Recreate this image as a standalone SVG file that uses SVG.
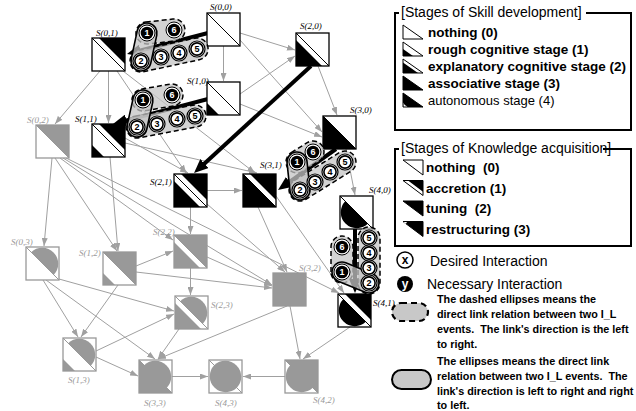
<svg xmlns="http://www.w3.org/2000/svg" xmlns:xlink="http://www.w3.org/1999/xlink" width="636" height="411" viewBox="0 0 636 411">
<style>
.bg{fill:#fff}
.nb use{fill:#000}
.ng use{fill:#999}
.nb .fr{fill:none;stroke:#000;stroke-width:1.3}
.ng .fr{fill:none;stroke:#999;stroke-width:1.3}
.nb .dg{stroke:#000;stroke-width:1}
.ng .dg{stroke:#999;stroke-width:1}
.lb{font-family:"Liberation Serif","Times New Roman",serif;font-style:italic;font-size:9px;fill:#000}
.lg{font-family:"Liberation Serif","Times New Roman",serif;font-style:italic;font-size:9px;fill:#999}
.ge{fill:none;stroke:#a0a0a0;stroke-width:1;marker-end:url(#ag)}
.te{fill:none;stroke:#000;stroke-width:4;marker-end:url(#ab)}
.cd{fill:#c4c4c4;fill-opacity:.75;stroke:#000;stroke-width:1.5;stroke-dasharray:5 3}
.cs{fill:#c4c4c4;fill-opacity:.75;stroke:#000;stroke-width:1.6}
.nw{font-family:"Liberation Sans",Arial,sans-serif;font-weight:bold;font-size:9px;fill:#fff;text-anchor:middle}
.nk{font-family:"Liberation Sans",Arial,sans-serif;font-weight:bold;font-size:9px;fill:#000;text-anchor:middle}
.lt{font-family:"Liberation Sans",Arial,sans-serif;font-size:14px;fill:#000}
.li{font-family:"Liberation Sans",Arial,sans-serif;font-size:13.5px;font-weight:bold;fill:#000;white-space:pre}
.lr{font-family:"Liberation Sans",Arial,sans-serif;font-size:13px;fill:#000}
.lp{font-family:"Liberation Sans",Arial,sans-serif;font-size:10.8px;font-weight:bold;fill:#000;white-space:pre}
.bx{fill:none;stroke:#000;stroke-width:2}
.ow{fill:#fff;stroke:#000;stroke-width:1}
</style>
<defs>
<marker id="ag" viewBox="0 0 8 6" refX="8" refY="3" markerWidth="8" markerHeight="6" markerUnits="userSpaceOnUse" orient="auto"><path d="M0,0 L8,3 L0,6 Z" fill="#a0a0a0"/></marker>
<marker id="ab" viewBox="0 0 14 12" refX="2" refY="6" markerWidth="14" markerHeight="12" markerUnits="userSpaceOnUse" orient="auto"><path d="M0,0 L14,6 L0,12 Z" fill="#000"/></marker>
<path id="sk1" d="M0,21 L0,33 L12,33 Z"/>
<path id="sk2" d="M0,7 L0,33 L26,33 Z"/>
<path id="sk3" d="M0,0 L0,33 L33,33 Z"/>
<path id="sk4" d="M5.19,5.19 A16,16 0 0 0 27.81,27.81 Z"/>
<path id="kn1" d="M7,0 L33,0 L33,26 Z"/>
<path id="kn2" d="M0,0 L33,0 L33,33 Z"/>
<path id="kn3" d="M5.19,5.19 A16,16 0 0 1 27.81,27.81 Z"/>
<g id="cb"><circle r="8" fill="#fff" stroke="#000" stroke-width="1"/><circle r="6.3" fill="#000"/></g>
<g id="cw"><circle r="8" fill="#fff" stroke="#000" stroke-width="1.2"/><circle r="6.1" fill="#fff" stroke="#000" stroke-width="1.6"/></g>
</defs>
<rect width="636" height="411" fill="#fff"/>

<g id="connectors">
<path class="ge" d="M223.5,46 L223.5,81"/>
<path class="ge" d="M240,33 L295,50"/>
<path class="ge" d="M240,40 L322,132"/>
<path class="ge" d="M240,94 L295,56"/>
<path class="ge" d="M240,104 L322,137"/>
<path class="ge" d="M318,66 L337,115"/>
<path class="ge" d="M346,149 L355,195"/>
<path class="ge" d="M108.5,71 L108.5,123"/>
<path class="ge" d="M100,71 L55,124"/>
<path class="ge" d="M117,71 L186,173"/>
<path class="ge" d="M123,71 L255,173"/>
<path class="ge" d="M125,138 L188,173"/>
<path class="ge" d="M125,143 L257,173"/>
<path class="ge" d="M110,157 L118,251"/>
<path class="ge" d="M207,190.5 L242,190.5"/>
<path class="ge" d="M190.5,207 L190.5,234"/>
<path class="ge" d="M207,204 L285,272"/>
<path class="ge" d="M258,207 L287,272"/>
<path class="ge" d="M276,196 L344,293"/>
<path class="ge" d="M350,327 L303,359"/>
<path class="ge" d="M52,158 L44,246"/>
<path class="ge" d="M55,158 L117,251"/>
<path class="ge" d="M60,158 L173,240"/>
<path class="ge" d="M63,158 L272,285"/>
<path class="ge" d="M66,158 L339,293"/>
<path class="ge" d="M118,285 L81,337"/>
<path class="ge" d="M136,266 L173,251"/>
<path class="ge" d="M136,272 L272,288"/>
<path class="ge" d="M190.5,268 L190.5,295"/>
<path class="ge" d="M207,257 L272,286"/>
<path class="ge" d="M290,306 L300,359"/>
<path class="ge" d="M287,306 L158,359"/>
<path class="ge" d="M43,280 L78,337"/>
<path class="ge" d="M59,279 L174,311"/>
<path class="ge" d="M46,280 L155,359"/>
<path class="ge" d="M96,351 L174,314"/>
<path class="ge" d="M96,357 L138,376"/>
<path class="ge" d="M179,329 L158,359"/>
<path class="ge" d="M172,376.5 L208,376.5"/>
<path class="ge" d="M285,376.5 L243,376.5"/>
<path class="te" d="M208,33 L138.6,51"/>
<path class="te" d="M208,99 L124.6,120.9"/>
<path class="te" d="M311,66 L202.9,164.9"/>
<path class="te" d="M336,149 L287.8,183.1"/>
<path class="te" d="M355,229 L355,281"/>
</g>

<g id="S00" class="nb"><g transform="translate(207,13)"><rect class="bg" width="33" height="33"/><line class="dg" x2="33" y2="33"/><rect class="fr" width="33" height="33"/></g><text class="lb" x="210" y="10">S(0,0)</text></g>
<g id="S01" class="nb"><g transform="translate(92,38)"><rect class="bg" width="33" height="33"/><use href="#kn1"/><line class="dg" x2="33" y2="33"/><rect class="fr" width="33" height="33"/></g><text class="lb" x="96" y="36">S(0,1)</text></g>
<g id="S10" class="nb"><g transform="translate(207,82)"><rect class="bg" width="33" height="33"/><use href="#sk1"/><line class="dg" x2="33" y2="33"/><rect class="fr" width="33" height="33"/></g><text class="lb" x="187" y="84">S(1,0)</text></g>
<g id="S11" class="nb"><g transform="translate(92,124)"><rect class="bg" width="33" height="33"/><use href="#sk1"/><use href="#kn1"/><line class="dg" x2="33" y2="33"/><rect class="fr" width="33" height="33"/></g><text class="lb" x="75" y="122">S(1,1)</text></g>
<g id="S20" class="nb"><g transform="translate(296,33)"><rect class="bg" width="33" height="33"/><use href="#sk2"/><line class="dg" x2="33" y2="33"/><rect class="fr" width="33" height="33"/></g><text class="lb" x="300" y="29">S(2,0)</text></g>
<g id="S21" class="nb"><g transform="translate(174,174)"><rect class="bg" width="33" height="33"/><use href="#sk2"/><use href="#kn1"/><line class="dg" x2="33" y2="33"/><rect class="fr" width="33" height="33"/></g><text class="lb" x="150" y="185">S(2,1)</text></g>
<g id="S30" class="nb"><g transform="translate(323,116)"><rect class="bg" width="33" height="33"/><use href="#sk3"/><line class="dg" x2="33" y2="33"/><rect class="fr" width="33" height="33"/></g><text class="lb" x="350" y="113">S(3,0)</text></g>
<g id="S31" class="nb"><g transform="translate(243,174)"><rect class="bg" width="33" height="33"/><use href="#sk3"/><use href="#kn1"/><line class="dg" x2="33" y2="33"/><rect class="fr" width="33" height="33"/></g><text class="lb" x="260" y="168">S(3,1)</text></g>
<g id="S40" class="nb"><g transform="translate(340,196)"><rect class="bg" width="33" height="33"/><use href="#sk4"/><line class="dg" x2="33" y2="33"/><rect class="fr" width="33" height="33"/></g><text class="lb" x="369" y="193">S(4,0)</text></g>
<g id="S41" class="nb"><g transform="translate(338,294)"><rect class="bg" width="33" height="33"/><use href="#sk4"/><use href="#kn1"/><line class="dg" x2="33" y2="33"/><rect class="fr" width="33" height="33"/></g><text class="lb" x="373" y="306">S(4,1)</text></g>
<g id="S02" class="ng"><g transform="translate(36,125)"><rect class="bg" width="33" height="33"/><use href="#kn2"/><line class="dg" x2="33" y2="33"/><rect class="fr" width="33" height="33"/></g><text class="lg" x="27" y="123">S(0,2)</text></g>
<g id="S12" class="ng"><g transform="translate(103,252)"><rect class="bg" width="33" height="33"/><use href="#sk1"/><use href="#kn2"/><line class="dg" x2="33" y2="33"/><rect class="fr" width="33" height="33"/></g><text class="lg" x="79" y="256">S(1,2)</text></g>
<g id="S22" class="ng"><g transform="translate(174,235)"><rect class="bg" width="33" height="33"/><use href="#sk2"/><use href="#kn2"/><line class="dg" x2="33" y2="33"/><rect class="fr" width="33" height="33"/></g><text class="lg" x="153" y="235">S(2,2)</text></g>
<g id="S32" class="ng"><g transform="translate(273,273)"><rect class="bg" width="33" height="33"/><use href="#sk3"/><use href="#kn2"/><line class="dg" x2="33" y2="33"/><rect class="fr" width="33" height="33"/></g><text class="lg" x="299" y="271">S(3,2)</text></g>
<g id="S42" class="ng"><g transform="translate(285,360)"><rect class="bg" width="33" height="33"/><use href="#sk4"/><use href="#kn2"/><line class="dg" x2="33" y2="33"/><rect class="fr" width="33" height="33"/></g><text class="lg" x="313" y="403">S(4,2)</text></g>
<g id="S03" class="ng"><g transform="translate(26,247)"><rect class="bg" width="33" height="33"/><use href="#kn3"/><line class="dg" x2="33" y2="33"/><rect class="fr" width="33" height="33"/></g><text class="lg" x="11" y="245">S(0,3)</text></g>
<g id="S13" class="ng"><g transform="translate(63,338)"><rect class="bg" width="33" height="33"/><use href="#sk1"/><use href="#kn3"/><line class="dg" x2="33" y2="33"/><rect class="fr" width="33" height="33"/></g><text class="lg" x="68" y="383">S(1,3)</text></g>
<g id="S23" class="ng"><g transform="translate(175,296)"><rect class="bg" width="33" height="33"/><use href="#sk2"/><use href="#kn3"/><line class="dg" x2="33" y2="33"/><rect class="fr" width="33" height="33"/></g><text class="lg" x="211" y="308">S(2,3)</text></g>
<g id="S33" class="ng"><g transform="translate(139,360)"><rect class="bg" width="33" height="33"/><use href="#sk3"/><use href="#kn3"/><line class="dg" x2="33" y2="33"/><rect class="fr" width="33" height="33"/></g><text class="lg" x="144" y="406">S(3,3)</text></g>
<g id="S43" class="ng"><g transform="translate(209,360)"><rect class="bg" width="33" height="33"/><use href="#sk4"/><use href="#kn3"/><line class="dg" x2="33" y2="33"/><rect class="fr" width="33" height="33"/></g><text class="lg" x="215" y="406">S(4,3)</text></g>

<g id="events-A">
<rect class="cd" transform="translate(160.5,31.5) rotate(-6.34)" x="-24.6" y="-11" width="49.2" height="22" rx="11"/>
<rect class="cd" transform="translate(169,55) rotate(-12.09)" x="-39.6" y="-11" width="79.3" height="22" rx="11"/>
<rect class="cs" transform="translate(144,47) rotate(102.1)" x="-24.3" y="-10" width="48.6" height="20" rx="10"/>
<use href="#cb" x="147" y="33"/><text class="nw" x="147" y="36.2">1</text>
<use href="#cb" x="174" y="30"/><text class="nw" x="174" y="33.2">6</text>
<use href="#cw" x="141" y="61"/><text class="nk" x="141" y="64.2">2</text>
<use href="#cw" x="161" y="57"/><text class="nk" x="161" y="60.2">3</text>
<use href="#cw" x="179" y="53"/><text class="nk" x="179" y="56.2">4</text>
<use href="#cw" x="197" y="49"/><text class="nk" x="197" y="52.2">5</text>
</g>
<g id="events-B">
<rect class="cd" transform="translate(157.5,97.5) rotate(-9.78)" x="-25.7" y="-11" width="51.4" height="22" rx="11"/>
<rect class="cd" transform="translate(166,121.5) rotate(-10.74)" x="-40.5" y="-11" width="81" height="22" rx="11"/>
<rect class="cs" transform="translate(140,113.5) rotate(102.5)" x="-23.8" y="-10" width="47.7" height="20" rx="10"/>
<use href="#cb" x="143" y="100"/><text class="nw" x="143" y="103.2">1</text>
<use href="#cb" x="172" y="95"/><text class="nw" x="172" y="98.2">6</text>
<use href="#cw" x="137" y="127"/><text class="nk" x="137" y="130.2">2</text>
<use href="#cw" x="157" y="124"/><text class="nk" x="157" y="127.2">3</text>
<use href="#cw" x="177" y="119"/><text class="nk" x="177" y="122.2">4</text>
<use href="#cw" x="195" y="116"/><text class="nk" x="195" y="119.2">5</text>
</g>
<g id="events-C">
<rect class="cd" transform="translate(305,157) rotate(-32)" x="-20.4" y="-11" width="40.9" height="22" rx="11"/>
<rect class="cd" transform="translate(322.5,176) rotate(-31.9)" x="-37.5" y="-11" width="75" height="22" rx="11"/>
<rect class="cs" transform="translate(298.5,176) rotate(83.9)" x="-24.1" y="-10" width="48.2" height="20" rx="10"/>
<use href="#cb" x="297" y="162"/><text class="nw" x="297" y="165.2">1</text>
<use href="#cb" x="313" y="152"/><text class="nw" x="313" y="155.2">6</text>
<use href="#cw" x="300" y="190"/><text class="nk" x="300" y="193.2">2</text>
<use href="#cw" x="315" y="182"/><text class="nk" x="315" y="185.2">3</text>
<use href="#cw" x="330" y="172"/><text class="nk" x="330" y="175.2">4</text>
<use href="#cw" x="345" y="162"/><text class="nk" x="345" y="165.2">5</text>
</g>
<g id="events-D">
<rect class="cd" transform="translate(342,259.5) rotate(-90)" x="-23.5" y="-11" width="47" height="22" rx="11"/>
<rect class="cd" transform="translate(369,260.5) rotate(-90)" x="-33.5" y="-11" width="67" height="22" rx="11"/>
<rect class="cs" transform="translate(355.5,277.5) rotate(22.17)" x="-24.6" y="-10" width="49.2" height="20" rx="10"/>
<use href="#cb" x="342" y="272"/><text class="nw" x="342" y="275.2">1</text>
<use href="#cb" x="342" y="247"/><text class="nw" x="342" y="250.2">6</text>
<use href="#cw" x="369" y="283"/><text class="nk" x="369" y="286.2">2</text>
<use href="#cw" x="369" y="268"/><text class="nk" x="369" y="271.2">3</text>
<use href="#cw" x="369" y="253"/><text class="nk" x="369" y="256.2">4</text>
<use href="#cw" x="369" y="238"/><text class="nk" x="369" y="241.2">5</text>
</g>

<g id="legend-skill">
<path class="bx" d="M399,13 H395 V130 H631 V13 H586"/>
<text class="lt" x="401" y="17">[Stages of Skill development]</text>
<g transform="translate(403,25)"><path class="ow" d="M0,0 L0,14 L20,14 Z"/></g>
<g transform="translate(403,42)"><path class="ow" d="M0,0 L0,14 L20,14 Z"/><path d="M0,7 L0,14 L10,14 Z" fill="#000"/></g>
<g transform="translate(403,59)"><path class="ow" d="M0,0 L0,14 L20,14 Z"/><path d="M0,3.5 L0,14 L15,14 Z" fill="#000"/></g>
<g transform="translate(403,76)"><path d="M0,0 L0,14 L20,14 Z" fill="#000" stroke="#000" stroke-width="1"/></g>
<g transform="translate(403,93)"><path d="M0,0 L0,14 L20,14 Z" fill="#000" stroke="#000" stroke-width="1"/><path d="M0.6,9.5 Q1.2,12.6 4.5,13.4 L0.6,13.4 Z" fill="#fff"/></g>
<text class="li" x="428" y="37">nothing (0)</text>
<text class="li" x="428" y="54">rough cognitive stage (1)</text>
<text class="li" x="428" y="71">explanatory cognitive stage (2)</text>
<text class="li" x="428" y="88">associative stage (3)</text>
<text class="lr" x="428" y="105">autonomous stage (4)</text>
</g>

<g id="legend-knowledge">
<path class="bx" d="M399,149 H395 V246 H631 V149 H603"/>
<text class="lt" x="401" y="153">[Stages of Knowledge acquisition]</text>
<g transform="translate(403,160)"><path class="ow" d="M0,0 L20,0 L20,15 Z"/></g>
<g transform="translate(403,180.5)"><path class="ow" d="M0,0 L20,0 L20,15 Z"/><path d="M5,0 L20,0 L20,11.2 Z" fill="#000"/></g>
<g transform="translate(403,201)"><path d="M0,0 L20,0 L20,15 Z" fill="#000" stroke="#000" stroke-width="1"/></g>
<g transform="translate(403,221.5)"><path d="M0,0 L20,0 L20,15 Z" fill="#000" stroke="#000" stroke-width="1"/><path d="M0.5,0.5 L4,0.5 L2.8,2.4 Z" fill="#fff"/></g>
<text class="li" x="426" y="172">nothing  (0)</text>
<text class="li" x="426" y="192.5">accretion (1)</text>
<text class="li" x="426" y="213">tuning  (2)</text>
<text class="li" x="426" y="233.5">restructuring (3)</text>
</g>

<g id="legend-interaction">
<circle cx="405" cy="260" r="8" fill="#fff" stroke="#000" stroke-width="1.5"/>
<text x="405" y="264" font-family="Liberation Sans, Arial, sans-serif" font-weight="bold" font-size="12" text-anchor="middle">x</text>
<text class="lt" x="430" y="266">Desired Interaction</text>
<circle cx="405" cy="284" r="8" fill="#000"/>
<text x="405" y="288" font-family="Liberation Sans, Arial, sans-serif" font-weight="bold" font-size="12" fill="#fff" text-anchor="middle">y</text>
<text class="lt" x="427" y="289">Necessary Interaction</text>
</g>

<g id="legend-ellipses">
<rect x="392" y="303" width="36" height="18" rx="9" fill="#c8c8c8" stroke="#000" stroke-width="2.2" stroke-dasharray="6 4"/>
<text class="lp" x="437" y="303">The dashed ellipses means the</text>
<text class="lp" x="437" y="318">direct link relation between two I_L</text>
<text class="lp" x="437" y="333">events.  The link's direction is the left</text>
<text class="lp" x="437" y="348">to right.</text>
<rect x="392" y="370" width="39" height="19" rx="9.5" fill="#c8c8c8" stroke="#000" stroke-width="2"/>
<text class="lp" x="437" y="365">The ellipses means the direct link</text>
<text class="lp" x="437" y="380">relation between two I_L events.  The</text>
<text class="lp" x="437" y="395">link's direction is left to right and right</text>
<text class="lp" x="437" y="409">to left.</text>
</g>
</svg>
